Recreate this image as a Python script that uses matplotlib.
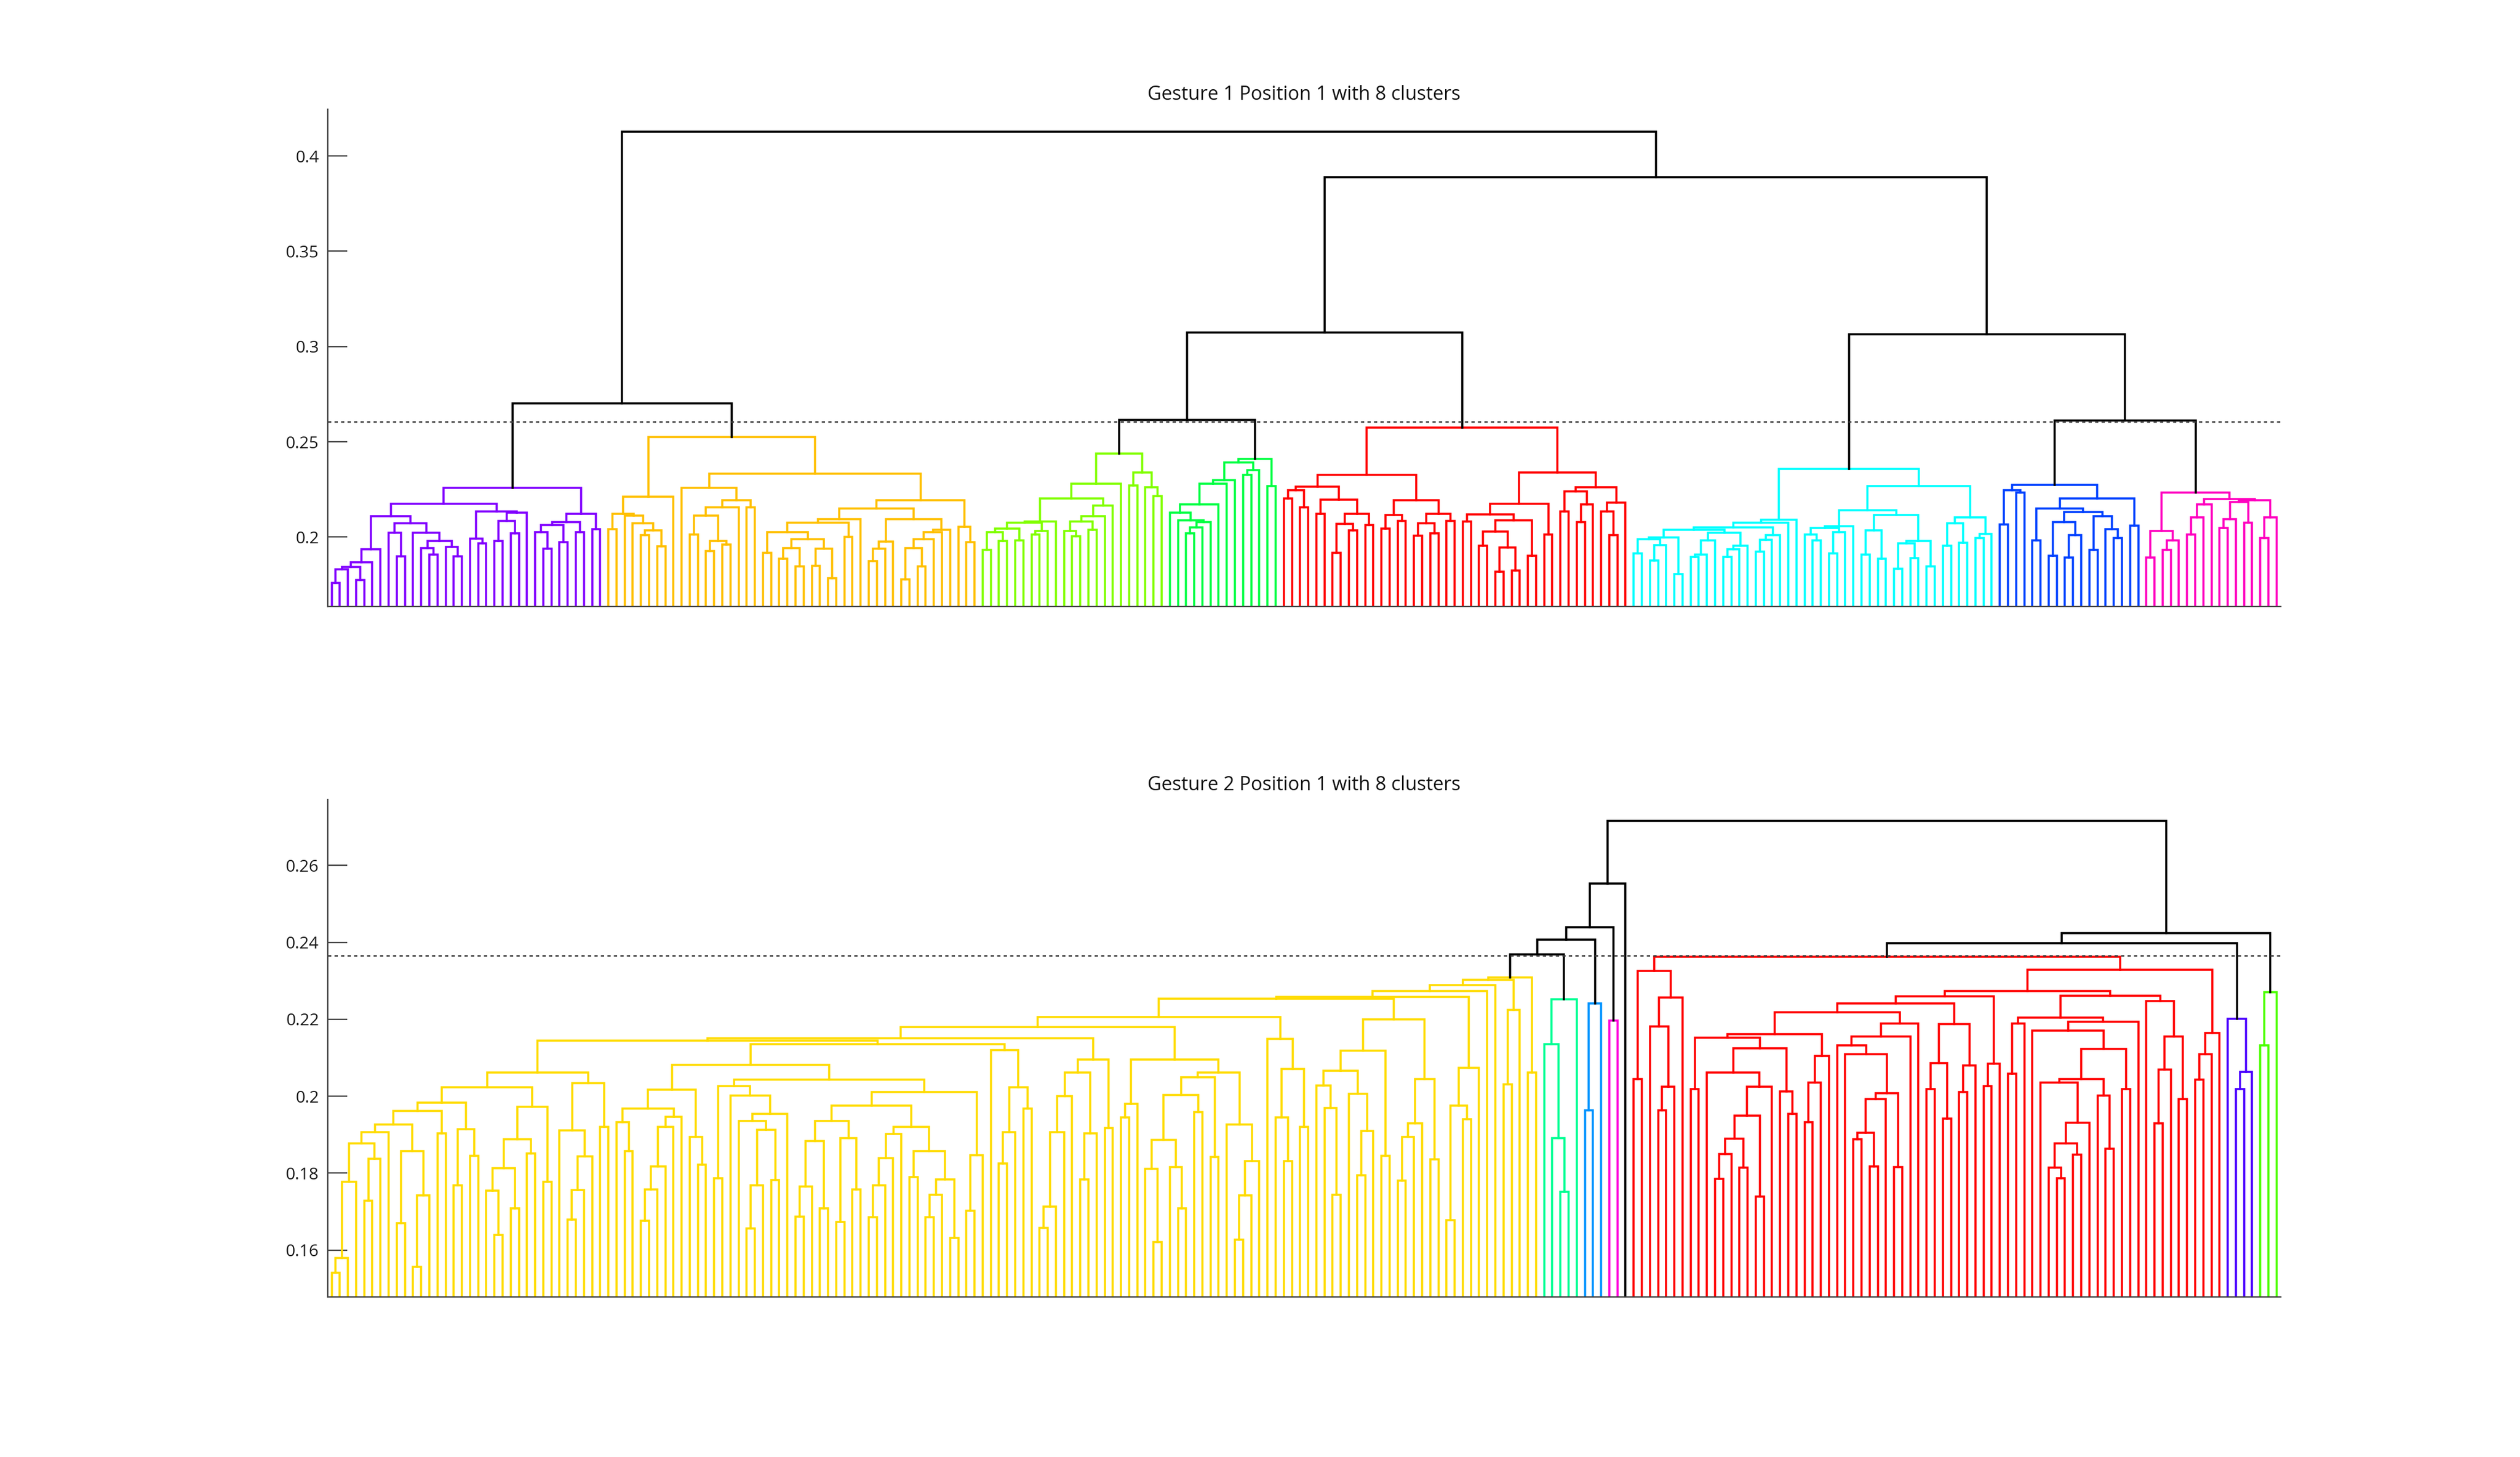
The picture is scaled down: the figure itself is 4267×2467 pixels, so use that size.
import matplotlib
matplotlib.use('Agg')
import matplotlib.pyplot as plt

plt.rcParams['font.family'] = ['Open Sans', 'DejaVu Sans']

# ---------------- data ----------------
TOP_TITLE = 'Gesture 1 Position 1 with 8 clusters'
BOTTOM_TITLE = 'Gesture 2 Position 1 with 8 clusters'

# leaves per cluster, left to right
TOP_CLUSTER_SIZES = [34, 46, 23, 14, 43, 45, 18, 17]
TOP_CLUSTER_COLORS = [(0.5, 0, 1), (1, 0.75, 0), (0.5, 1, 0), (0, 1, 0.25),
                      (1, 0, 0), (0, 1, 1), (0, 0.25, 1), (1, 0, 0.75)]
# merge height between neighbouring leaves i and i+1 (dendrogram order)
TOP_GAPS = [
    # purple
    0.1758, 0.1829, 0.1844, 0.1774, 0.1868, 0.1935, 0.2110, 0.2024, 0.1899, 0.2071,
    0.2024, 0.1941, 0.1909, 0.1979, 0.1948, 0.1899, 0.2175, 0.1993, 0.1967, 0.2133,
    0.1979, 0.2086, 0.2019, 0.2128, 0.2258, 0.2027, 0.1938, 0.2063, 0.1974, 0.2078,
    0.2027, 0.2121, 0.2040,
    0.2701,
    # orange
    0.2040, 0.2123, 0.2113, 0.2073, 0.2009, 0.2035, 0.1952, 0.2211, 0.2524, 0.2258,
    0.2012, 0.2113, 0.1926, 0.1978, 0.1962, 0.2156, 0.2192, 0.2156, 0.2332, 0.1918,
    0.2025, 0.1885, 0.1942, 0.1845, 0.1988, 0.1848, 0.1939, 0.1783, 0.2074, 0.2001,
    0.2095, 0.2149, 0.1874, 0.1939, 0.1975, 0.2094, 0.1778, 0.1942, 0.1845, 0.1988,
    0.2027, 0.2037, 0.2192, 0.2053, 0.1973,
    0.4127,
    # lime
    0.1933, 0.2025, 0.1978, 0.2043, 0.1981, 0.2076, 0.2014, 0.2033, 0.2082, 0.2201,
    0.2033, 0.2004, 0.2082, 0.2037, 0.2111, 0.2164, 0.2281, 0.2437, 0.2270, 0.2338,
    0.2260, 0.2216,
    0.2614,
    # green
    0.2128, 0.2089, 0.2019, 0.2051, 0.2078, 0.2172, 0.2281, 0.2299, 0.2392, 0.2325,
    0.2351, 0.2410, 0.2268,
    0.3072,
    # red
    0.2201, 0.2247, 0.2156, 0.2263, 0.2123, 0.2196, 0.1916, 0.2069, 0.2035, 0.2123,
    0.2064, 0.2328, 0.2043, 0.2115, 0.2085, 0.2192, 0.2007, 0.2073, 0.2021, 0.2121,
    0.2084, 0.2574, 0.2082, 0.2120, 0.1955, 0.2030, 0.1817, 0.1944, 0.1823, 0.2087,
    0.1903, 0.2175, 0.2012, 0.2338, 0.2135, 0.2239, 0.2080, 0.2170, 0.2260, 0.2133,
    0.2009, 0.2182,
    0.3890,
    # cyan
    0.1913, 0.1990, 0.1877, 0.1959, 0.1999, 0.1805, 0.2037, 0.1897, 0.1908, 0.1983,
    0.2023, 0.1897, 0.1937, 0.1954, 0.2051, 0.1923, 0.1986, 0.2009, 0.2076, 0.2092,
    0.2356, 0.2014, 0.1981, 0.2048, 0.1913, 0.2025, 0.2058, 0.2139, 0.1908, 0.2035,
    0.1885, 0.2115, 0.1833, 0.1968, 0.1890, 0.1978, 0.1846, 0.2268, 0.1955, 0.2071,
    0.1971, 0.2102, 0.1994, 0.2017,
    0.3063,
    # blue
    0.2066, 0.2245, 0.2235, 0.2273, 0.1983, 0.2149, 0.1903, 0.2078, 0.1893, 0.2011,
    0.2130, 0.1933, 0.2111, 0.2040, 0.1994, 0.2204, 0.2059,
    0.2612,
    # magenta
    0.1893, 0.2032, 0.1934, 0.1981, 0.2235, 0.2014, 0.2102, 0.2170, 0.2199, 0.2048,
    0.2094, 0.2185, 0.2074, 0.2194, 0.1996, 0.2102,
]
TOP_CUTOFF = 0.2606
TOP_YLIM = (0.1636, 0.4245)
TOP_YTICKS = [0.2, 0.25, 0.3, 0.35, 0.4]
TOP_YTICKLABELS = ['0.2', '0.25', '0.3', '0.35', '0.4']

BOTTOM_CLUSTER_SIZES = [149, 5, 3, 2, 1, 73, 4, 3]
BOTTOM_CLUSTER_COLORS = [(1, 0.857, 0), (0, 1, 0.571), (0, 0.571, 1), (1, 0, 0.857),
                         (0, 0, 0), (1, 0, 0), (0.286, 0, 1), (0.286, 1, 0)]
BOTTOM_GAPS = [
    # yellow
    0.1541, 0.1579, 0.1778, 0.1878, 0.1728, 0.1838, 0.1907, 0.1927, 0.1670, 0.1857,
    0.1557, 0.1742, 0.1962, 0.1904, 0.1984, 0.1768, 0.1914, 0.1846, 0.2023, 0.1754,
    0.1639, 0.1813, 0.1708, 0.1888, 0.1852, 0.1973, 0.1778, 0.2062, 0.1912, 0.1679,
    0.1757, 0.1843, 0.2034, 0.1920, 0.2144, 0.1933, 0.1858, 0.1968, 0.1676, 0.1758,
    0.1818, 0.1920, 0.1947, 0.2017, 0.1895, 0.1823, 0.2082, 0.1787, 0.2027, 0.2002,
    0.1936, 0.1657, 0.1768, 0.1913, 0.1782, 0.1954, 0.2043, 0.1687, 0.1766, 0.1883,
    0.1708, 0.1936, 0.1673, 0.1891, 0.1758, 0.1975, 0.1686, 0.1768, 0.1839, 0.1902,
    0.1920, 0.1790, 0.1858, 0.1686, 0.1744, 0.1784, 0.1632, 0.2011, 0.1703, 0.1847,
    0.2135, 0.2120, 0.1825, 0.1906, 0.2024, 0.1968, 0.2150, 0.1658, 0.1714, 0.1906,
    0.2001, 0.2062, 0.1784, 0.1904, 0.2095, 0.1917, 0.2180, 0.1945, 0.1980, 0.2095,
    0.1812, 0.1621, 0.1887, 0.1816, 0.1709, 0.2003, 0.1959, 0.2050, 0.1842, 0.2062,
    0.1926, 0.1627, 0.1742, 0.1831, 0.2206, 0.2149, 0.1945, 0.1832, 0.2071, 0.1921,
    0.2253, 0.2028, 0.1970, 0.1744, 0.2067, 0.2006, 0.1794, 0.1909, 0.2118, 0.1846,
    0.2200, 0.1781, 0.1895, 0.1929, 0.2045, 0.1836, 0.2258, 0.1678, 0.1976, 0.1940,
    0.2074, 0.2273, 0.2289, 0.2303, 0.2031, 0.2224, 0.2309, 0.2061,
    0.2369,
    # teal
    0.2135, 0.1891, 0.1751, 0.2252,
    0.2407,
    # light blue
    0.1963, 0.2242,
    0.2439,
    # magenta
    0.2197,
    0.2553,
    # singleton
    0.2715,
    # red
    0.2045, 0.2325, 0.2181, 0.1964, 0.2025, 0.2256, 0.2363, 0.2019, 0.2153, 0.2061,
    0.1785, 0.1850, 0.1890, 0.1814, 0.1950, 0.1740, 0.2025, 0.2124, 0.2012, 0.1954,
    0.2162, 0.1933, 0.2035, 0.2104, 0.2219, 0.2132, 0.2110, 0.1889, 0.1905, 0.1817,
    0.1992, 0.2008, 0.1816, 0.2155, 0.2189, 0.2242, 0.2019, 0.2086, 0.1942, 0.2187,
    0.2011, 0.2080, 0.2260, 0.2027, 0.2084, 0.2274, 0.2058, 0.2189, 0.2205, 0.2170,
    0.2035, 0.1814, 0.1787, 0.1878, 0.1848, 0.1931, 0.2045, 0.2002, 0.1864, 0.2123,
    0.2019, 0.2193, 0.2262, 0.2248, 0.1929, 0.2069, 0.2155, 0.1993, 0.2329, 0.2043,
    0.2110, 0.2165,
    0.2398,
    # blue-violet
    0.2201, 0.2019, 0.2063,
    0.2424,
    # green
    0.2132, 0.2270,
]
BOTTOM_CUTOFF = 0.2366
BOTTOM_YLIM = (0.1479, 0.2771)
BOTTOM_YTICKS = [0.16, 0.18, 0.2, 0.22, 0.24, 0.26]
BOTTOM_YTICKLABELS = ['0.16', '0.18', '0.2', '0.22', '0.24', '0.26']

# ---------------- drawing ----------------
LW = 0.85
AXIS_COLOR = '#404040'


def draw_dendrogram(ax, gaps, sizes, colors, cutoff):
    leaf_cluster = []
    for ci, s in enumerate(sizes):
        leaf_cluster += [ci] * s
    n = len(leaf_cluster)

    def build(lo, hi):
        if lo == hi:
            return lo + 1, 0.0
        k = max(range(lo, hi), key=lambda i: gaps[i])
        xl, hl = build(lo, k)
        xr, hr = build(k + 1, hi)
        h = gaps[k]
        col = colors[leaf_cluster[lo]] if h < cutoff else 'black'
        ax.plot([xl, xl, xr, xr], [hl, h, h, hr], color=col, lw=LW,
                solid_joinstyle='miter', solid_capstyle='projecting', zorder=2)
        return (xl + xr) / 2.0, h

    build(0, n - 1)
    ax.set_xlim(0.5, n + 0.5)
    ax.axhline(cutoff, color='#3c3c3c', lw=0.6, linestyle=(0, (2.2, 2.2)), zorder=3)


def style_axes(ax, title, ylim, yticks, yticklabels):
    ax.set_ylim(*ylim)
    ax.set_yticks(yticks)
    ax.set_yticklabels(yticklabels)
    ax.set_xticks([])
    for side in ('top', 'right'):
        ax.spines[side].set_visible(False)
    for side in ('left', 'bottom'):
        ax.spines[side].set_color(AXIS_COLOR)
        ax.spines[side].set_linewidth(0.55)
    ax.tick_params(axis='y', direction='in', length=7.9, width=0.55,
                   color=AXIS_COLOR, labelsize=6.8, pad=3.5, labelcolor='#1a1a1a')
    ax.set_title(title, fontsize=7.8, pad=3.8, color='#111111')


fig = plt.figure(figsize=(4267 / 300, 2467 / 300), dpi=300)
fig.patch.set_facecolor('white')

ax1 = fig.add_axes([0.13, 0.5838, 0.775, 0.3412])
draw_dendrogram(ax1, TOP_GAPS, TOP_CLUSTER_SIZES, TOP_CLUSTER_COLORS, TOP_CUTOFF)
style_axes(ax1, TOP_TITLE, TOP_YLIM, TOP_YTICKS, TOP_YTICKLABELS)

ax2 = fig.add_axes([0.13, 0.11, 0.775, 0.3412])
draw_dendrogram(ax2, BOTTOM_GAPS, BOTTOM_CLUSTER_SIZES, BOTTOM_CLUSTER_COLORS, BOTTOM_CUTOFF)
style_axes(ax2, BOTTOM_TITLE, BOTTOM_YLIM, BOTTOM_YTICKS, BOTTOM_YTICKLABELS)

fig.savefig('out.png', dpi=300, facecolor='white')
